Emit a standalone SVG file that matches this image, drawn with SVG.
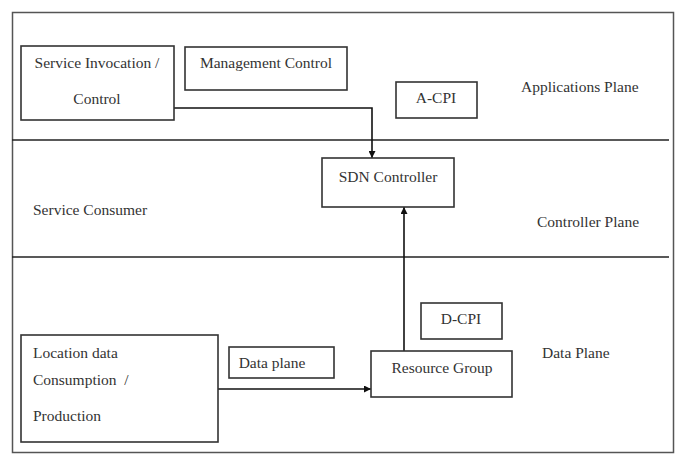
<svg xmlns="http://www.w3.org/2000/svg" width="683" height="455" viewBox="0 0 683 455">
<style>
.box{fill:#fff;stroke:#333;stroke-width:1.6}
.frame{fill:none;stroke:#555;stroke-width:1.5}
.sep{stroke:#222;stroke-width:1.5}
.t{font-family:'Liberation Serif','Times New Roman',serif;font-size:15.5px;fill:#333}
.c{text-anchor:middle}
.conn{fill:none;stroke:#111;stroke-width:1.6}
</style>
<defs>
<marker id="ah" viewBox="0 0 10 10" refX="10" refY="5" markerWidth="7" markerHeight="7" markerUnits="userSpaceOnUse" orient="auto">
<path d="M0,0 L10,5 L0,10 z" fill="#111"/>
</marker>
</defs>
<rect class="frame" x="12.5" y="12.5" width="661" height="440"/>
<line class="sep" x1="12" y1="140" x2="669" y2="140"/>
<line class="sep" x1="12" y1="257" x2="669" y2="257"/>
<g id="connectors">
<polyline class="conn" points="174,108 372,108 372,158" marker-end="url(#ah)"/>
<line class="conn" x1="404" y1="351" x2="404" y2="207" marker-end="url(#ah)"/>
<line class="conn" x1="218" y1="389" x2="371" y2="389" marker-end="url(#ah)"/>
</g>
<g id="service-invocation">
<rect class="box" x="21" y="46" width="153" height="74"/>
<text class="t c" x="97" y="68">Service Invocation /</text>
<text class="t c" x="97" y="104">Control</text>
</g>
<g id="management-control">
<rect class="box" x="185" y="47" width="162" height="43"/>
<text class="t c" x="266" y="68">Management Control</text>
</g>
<g id="a-cpi">
<rect class="box" x="396" y="82" width="81" height="36"/>
<text class="t c" x="436" y="103">A-CPI</text>
</g>
<g id="applications-plane">
<text class="t" x="521" y="92">Applications Plane</text>
</g>
<g id="sdn-controller">
<rect class="box" x="322" y="158" width="132" height="49"/>
<text class="t c" x="388" y="182">SDN Controller</text>
</g>
<g id="service-consumer">
<text class="t" x="33" y="215">Service Consumer</text>
</g>
<g id="controller-plane">
<text class="t" x="537" y="227">Controller Plane</text>
</g>
<g id="d-cpi">
<rect class="box" x="421" y="303" width="81" height="36"/>
<text class="t c" x="461" y="324">D-CPI</text>
</g>
<g id="data-plane-label">
<text class="t" x="542" y="358">Data Plane</text>
</g>
<g id="location-data">
<rect class="box" x="21" y="335" width="197" height="107"/>
<text class="t" x="33" y="358">Location data</text>
<text class="t" x="33" y="385" xml:space="preserve">Consumption  /</text>
<text class="t" x="33" y="421">Production</text>
</g>
<g id="data-plane">
<rect class="box" x="229" y="347" width="105" height="31"/>
<text class="t c" x="272" y="368">Data plane</text>
</g>
<g id="resource-group">
<rect class="box" x="371" y="351" width="141" height="46"/>
<text class="t c" x="442" y="373">Resource Group</text>
</g>
</svg>
